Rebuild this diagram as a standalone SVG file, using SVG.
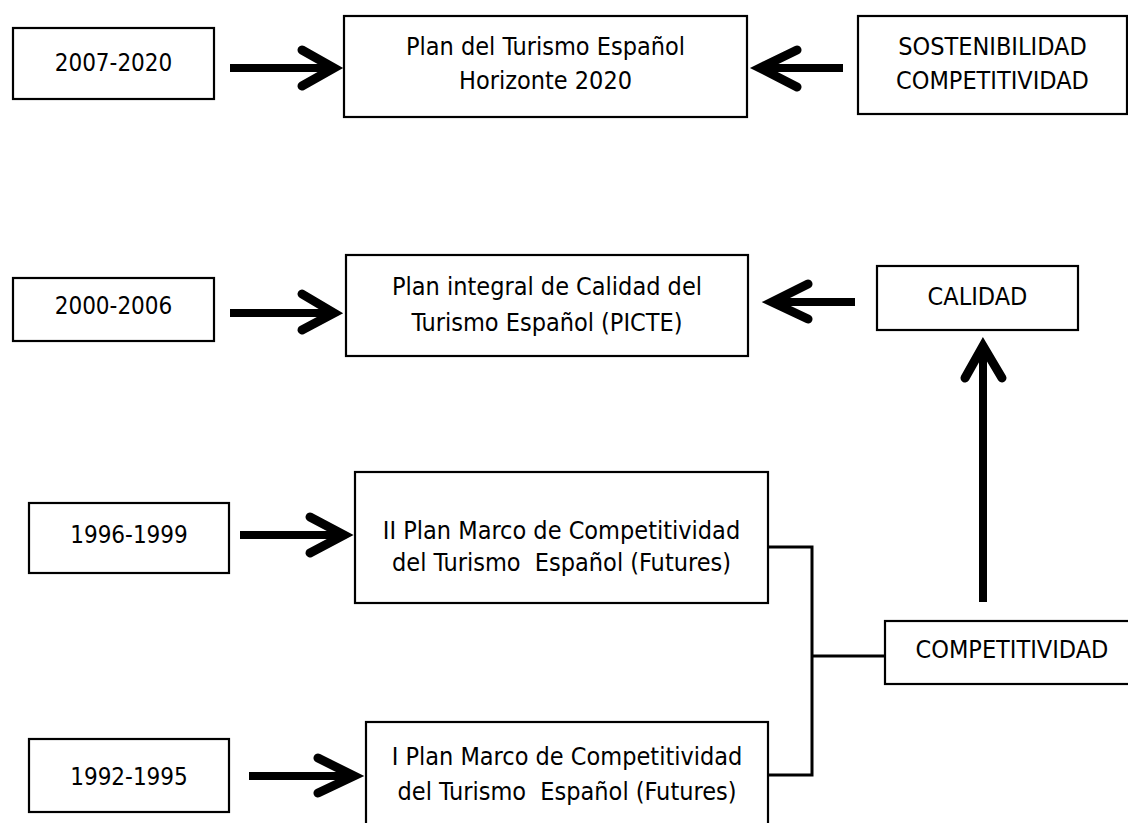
<svg xmlns="http://www.w3.org/2000/svg" width="1128" height="823" viewBox="0 0 1128 823">
<style>
.box{fill:#fff;stroke:#000;stroke-width:2.2}
text{font-family:"DejaVu Sans Condensed","DejaVu Sans",sans-serif;font-size:25px;fill:#000;text-anchor:middle;white-space:pre}
.num{font-size:24px}
.shaft{fill:none;stroke:#000;stroke-width:8;stroke-linecap:butt}
.head{fill:none;stroke:#000;stroke-width:9;stroke-linecap:round;stroke-linejoin:miter;stroke-miterlimit:10}
.link{fill:none;stroke:#000;stroke-width:3}
</style>
<rect width="1128" height="823" fill="#fff"/>
<g id="connectors">
<line class="shaft" x1="230" y1="68" x2="330" y2="68"/><polyline class="head" points="302,50 334,68 302,86"/>
<line class="shaft" x1="843" y1="68" x2="764" y2="68"/><polyline class="head" points="797,50 760,68 797,87"/>
<line class="shaft" x1="230" y1="313" x2="330" y2="313"/><polyline class="head" points="302,294 334,313 302,330"/>
<line class="shaft" x1="855" y1="302" x2="776" y2="302"/><polyline class="head" points="808,284 772,302 808,319"/>
<line class="shaft" x1="983" y1="602" x2="983" y2="350"/><polyline class="head" points="965,378 983,346 1002,378"/>
<line class="shaft" x1="240" y1="535" x2="340" y2="535"/><polyline class="head" points="310,517 344,535 310,553"/>
<line class="shaft" x1="249" y1="776" x2="350" y2="776"/><polyline class="head" points="318,758 354,776 318,793"/>
<polyline class="link" points="768,547 812,547 812,775 768,775"/>
<line class="link" x1="812" y1="656" x2="885" y2="656"/>
</g>
<g id="n2007"><rect class="box" x="13" y="28" width="201" height="71"/><text class="num" x="113.5" y="71">2007-2020</text></g>
<g id="plan2020"><rect class="box" x="344" y="16" width="403" height="101"/><text x="545.5" y="55">Plan del Turismo Español</text><text x="545.5" y="89">Horizonte 2020</text></g>
<g id="sost"><rect class="box" x="858" y="16" width="269" height="98"/><text x="992.5" y="55">SOSTENIBILIDAD</text><text x="992.5" y="89">COMPETITIVIDAD</text></g>
<g id="n2000"><rect class="box" x="13" y="278" width="201" height="63"/><text class="num" x="113.5" y="314">2000-2006</text></g>
<g id="picte"><rect class="box" x="346" y="255" width="402" height="101"/><text x="547" y="295">Plan integral de Calidad del</text><text x="547" y="331">Turismo Español (PICTE)</text></g>
<g id="calidad"><rect class="box" x="877" y="266" width="201" height="64"/><text x="977.5" y="305">CALIDAD</text></g>
<g id="n1996"><rect class="box" x="29" y="503" width="200" height="70"/><text class="num" x="129" y="543">1996-1999</text></g>
<g id="plan2"><rect class="box" x="355" y="472" width="413" height="131"/><text x="561.5" y="539">II Plan Marco de Competitividad</text><text x="561.5" y="571">del Turismo  Español (Futures)</text></g>
<g id="compet"><rect class="box" x="885" y="621" width="250" height="63"/><text x="1012" y="658">COMPETITIVIDAD</text></g>
<g id="n1992"><rect class="box" x="29" y="739" width="200" height="73"/><text class="num" x="129" y="785">1992-1995</text></g>
<g id="plan1"><rect class="box" x="366" y="722" width="402" height="110"/><text x="567" y="765">I Plan Marco de Competitividad</text><text x="567" y="800">del Turismo  Español (Futures)</text></g>
</svg>
